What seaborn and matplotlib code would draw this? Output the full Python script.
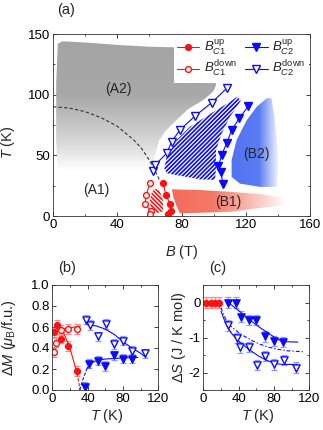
import numpy as np
import matplotlib
matplotlib.use("Agg")
import matplotlib.pyplot as plt
import seaborn as sns
from matplotlib.patches import Polygon
from matplotlib.lines import Line2D
from matplotlib.ticker import MultipleLocator

# ---------------- data: panel (a) phase diagram ----------------
bc1_up_B = [68.5, 70.4, 72.9, 73.5, 71.6]
bc1_up_T = [27, 17, 10, 4, 2]
bc1_dn_B = [60.4, 57.9, 57.3, 61.0, 60.6]
bc1_dn_T = [27, 17, 10, 4, 2]
bc2_up_B = [121.6, 116, 111.3, 108.2, 105, 103, 104.6, 105.7]
bc2_up_T = [90.7, 80.5, 70.9, 60.4, 50.3, 41.2, 36.5, 26.4]
bc2_dn_B = [62.5, 63.5, 70.8, 73.9, 79, 88.4, 98.8, 108.2]
bc2_dn_T = [37.4, 42, 51.7, 61.3, 70.9, 82.4, 93.4, 105.3]

guide_B = [0, 10, 20, 30, 40, 50, 55, 60, 64, 66.5]
guide_T = [90, 89, 86, 81, 74, 63, 56, 46, 36, 29]

regionA2_B = [3, 6, 20, 40, 60, 76, 76, 100, 101.5, 100, 94, 84, 76, 70, 66, 63.5, 61, 30, 3, 2, 2]
regionA2_T = [142, 144, 143, 141, 139.5, 139, 116, 115.5, 108, 103, 96, 88, 78, 70, 62, 50, 38, 36, 38, 60, 110]
regionB1_B = [74, 90, 110, 130, 143, 145, 143, 125, 112, 95, 79, 77, 75]
regionB1_T = [22, 21.5, 20, 18, 15, 12, 9, 6, 3.6, 2.8, 2.2, 8, 15]
regionB2_B = [111.2, 114.3, 120.6, 126.8, 133, 136, 137.5, 139, 140.3, 139.3, 128.9, 116.4, 111.2]
regionB2_T = [46, 62.6, 79, 90, 97, 97, 85, 68, 46, 24, 24, 26.7, 32.2]
hatchB_B = [114.8, 116.9, 110.2, 105, 101.5, 101.5, 100.9, 91.5, 70.8, 69.3, 70.8, 77, 85.3, 93.6, 101.9, 110.2]
hatchB_T = [98.4, 95, 81.9, 68.2, 54.4, 40.7, 29.7, 30.2, 35.2, 39.3, 48.9, 62.6, 73.6, 80.5, 87.4, 94.2]
hatchR_B = [62.9, 66.2, 68.3, 68.7, 64.6, 60.8, 60.4, 61.4]
hatchR_T = [22.4, 21.6, 13.4, 3.8, 2.4, 5.1, 13.4, 18.9]

region_labels = ["(A2)", "(A1)", "(B2)", "(B1)"]
region_label_B = [40.7, 27.2, 126.8, 109]
region_label_T = [104.6, 21.4, 51, 11.8]

# ---------------- data: panel (b) dM ----------------
mb_rup_T = [2.3, 5, 10.3, 17.5, 27.7]
mb_rup_M = [0.55, 0.62, 0.49, 0.42, 0.18]
mb_rdn_T = [2.3, 4.2, 10.2, 17.4, 27.6]
mb_rdn_M = [0.36, 0.45, 0.57, 0.58, 0.58]
mb_bdn_T = [38, 43, 52, 61, 70, 80, 90, 105]
mb_bdn_M = [0.67, 0.62, 0.51, 0.63, 0.44, 0.47, 0.37, 0.35]
mb_bup_T = [37, 42, 52, 60, 70, 80, 90]
mb_bup_M = [0.03, 0.25, 0.28, 0.23, 0.33, 0.30, 0.30]
mb_err = 0.045

fb_rup_T = [3, 8, 13, 18, 22, 26, 28]
fb_rup_M = [0.61, 0.59, 0.54, 0.44, 0.34, 0.22, 0.16]
fb_rup_dT = [28, 30, 31.5]
fb_rup_dM = [0.16, 0.07, 0.0]
fb_rdn_T = [5, 32]
fb_rdn_M = [0.57, 0.61]
fb_bdn_T = [40, 50, 60, 70, 80, 90, 100, 106]
fb_bdn_M = [0.62, 0.61, 0.58, 0.53, 0.46, 0.40, 0.35, 0.31]
fb_bup_dT = [31, 35, 39.5]
fb_bup_dM = [0.0, 0.11, 0.21]
fb_bup_T = [39.5, 45, 50, 60, 70, 80, 97]
fb_bup_M = [0.21, 0.26, 0.28, 0.295, 0.30, 0.305, 0.31]

# ---------------- data: panel (c) dS ----------------
sc_r_T = [3, 8.5, 13, 18]
sc_r_S = [0, 0, 0, 0]
sc_bup_T = [28, 37, 43, 52, 60, 70, 80, 90]
sc_bup_S = [0, 0, -0.4, -0.5, -0.5, -0.97, -1.1, -1.13]
sc_bdn_T = [28, 38, 42, 52, 61, 70, 80, 91, 105]
sc_bdn_S = [-0.65, -1.02, -1.28, -1.27, -1.78, -1.53, -1.77, -1.64, -1.86]
sc_err = 0.15

fc_bup_T = [28, 35, 42, 50, 58, 66, 74, 82, 90, 107]
fc_bup_S = [0, -0.13, -0.27, -0.45, -0.6, -0.75, -0.88, -1.02, -1.12, -1.13]
fc_bdn_T = [20, 23, 27, 31, 36, 42, 48, 55, 62, 70, 80, 90, 106]
fc_bdn_S = [-0.25, -0.45, -0.67, -0.85, -1.0, -1.15, -1.27, -1.4, -1.52, -1.63, -1.74, -1.77, -1.77]
fc_mid_T = [20, 23, 27, 31, 36, 42, 49, 56, 64, 73, 83, 95, 115]
fc_mid_S = [-0.15, -0.35, -0.55, -0.67, -0.78, -0.9, -1.0, -1.1, -1.19, -1.27, -1.33, -1.38, -1.41]

# ---------------- style ----------------
sns.set_theme(style="ticks")
FS = 9.5
LFS = 10.5
plt.rcParams.update({
    "font.family": ["Liberation Sans", "DejaVu Sans"],
    "mathtext.fontset": "custom",
    "mathtext.rm": "Liberation Sans",
    "mathtext.it": "Liberation Sans:italic",
    "mathtext.bf": "Liberation Sans:bold",
    "axes.unicode_minus": False,
    "hatch.linewidth": 1.2,
    "xtick.direction": "in", "ytick.direction": "in",
    "xtick.top": True, "ytick.right": True,
    "xtick.major.size": 3, "ytick.major.size": 3,
    "xtick.minor.size": 1.6, "ytick.minor.size": 1.6,
    "xtick.major.width": 0.6, "ytick.major.width": 0.6,
    "xtick.minor.width": 0.6, "ytick.minor.width": 0.6,
    "xtick.color": "#222222", "ytick.color": "#222222",
    "xtick.labelcolor": "black", "ytick.labelcolor": "black",
    "axes.edgecolor": "#333333", "axes.linewidth": 0.6,
    "xtick.labelsize": FS, "ytick.labelsize": FS,
    "axes.labelsize": LFS,
    "xtick.major.pad": 2.5, "ytick.major.pad": 2,
})

RED = "#ff1010"
BLUE = "#0a0aff"
LRED = "#ff8c8c"
LBLUE = "#8a9cff"

W, H = 323, 430
fig = plt.figure(figsize=(W / 100, H / 100), dpi=100)


def axes_px(x0, y0, x1, y1):
    return fig.add_axes([x0 / W, 1 - y1 / H, (x1 - x0) / W, (y1 - y0) / H])


axA = axes_px(53, 34, 310, 216)
axB = axes_px(52.3, 285, 158.3, 390)
axC = axes_px(203.3, 285, 309.3, 390)


def grad_fill(ax, xs, ys, direction, stops, colors, extent):
    poly = Polygon(np.column_stack([xs, ys]), closed=True, facecolor="none",
                   edgecolor="none", transform=ax.transData)
    ax.add_patch(poly)
    n = 300
    cols = np.array([matplotlib.colors.to_rgb(c) for c in colors])
    if direction == "x":
        grid = np.linspace(extent[0], extent[1], n)
        rgb = np.stack([np.interp(grid, stops, cols[:, k]) for k in range(3)], -1)
        img = rgb[None, :, :]
    else:
        grid = np.linspace(extent[2], extent[3], n)
        rgb = np.stack([np.interp(grid, stops, cols[:, k]) for k in range(3)], -1)
        img = rgb[:, None, :]
    im = ax.imshow(img, extent=extent, origin="lower", aspect="auto",
                   interpolation="bilinear", zorder=1)
    im.set_clip_path(poly)


# ---------------- panel (a) ----------------
grad_fill(axA, regionA2_B, regionA2_T, "y", [38, 60, 100, 150],
          ["#ffffff", "#d9d9d9", "#a8a8a8", "#a4a4a4"], [0, 110, 30, 150])
grad_fill(axA, regionB1_B, regionB1_T, "x", [70, 100, 146],
          ["#f36a58", "#f47a68", "#ffffff"], [70, 146, 0, 25])
grad_fill(axA, regionB2_B, regionB2_T, "x", [110, 128, 141],
          ["#5272f2", "#5a7cf2", "#ffffff"], [110, 141, 20, 100])

axA.add_patch(Polygon(np.column_stack([hatchB_B, hatchB_T]), closed=True,
                      facecolor="white", edgecolor=BLUE, hatch="////////", lw=0, zorder=2))
axA.add_patch(Polygon(np.column_stack([hatchR_B, hatchR_T]), closed=True,
                      facecolor="white", edgecolor=RED, hatch="\\\\\\\\\\\\\\\\", lw=0, zorder=2))

sns.lineplot(x=guide_B, y=guide_T, ax=axA, sort=False, estimator=None,
             color="#333333", lw=0.8, dashes=False, zorder=3)
axA.lines[-1].set_dashes((3, 2))


def series_line(ax, x, y, color, marker, filled, ms):
    sns.lineplot(x=x, y=y, ax=ax, sort=False, estimator=None, color=color, lw=0.8,
                 marker=marker, markersize=ms, markeredgecolor=color,
                 markerfacecolor=color if filled else "white",
                 markeredgewidth=1.0, zorder=5)


series_line(axA, bc1_up_B, bc1_up_T, RED, "o", True, 4.2)
series_line(axA, bc1_dn_B, bc1_dn_T, RED, "o", False, 4.2)
series_line(axA, bc2_up_B, bc2_up_T, BLUE, "v", True, 5.2)
series_line(axA, bc2_dn_B, bc2_dn_T, BLUE, "v", False, 5.2)

for lab, bx, ty in zip(region_labels, region_label_B, region_label_T):
    axA.text(bx, ty, lab, ha="center", va="center", fontsize=FS + 0.5, zorder=6)

axA.set_xlim(0, 160)
axA.set_ylim(0, 150)
axA.xaxis.set_major_locator(MultipleLocator(40))
axA.xaxis.set_minor_locator(MultipleLocator(20))
axA.yaxis.set_major_locator(MultipleLocator(50))
axA.yaxis.set_minor_locator(MultipleLocator(25))
axA.set_xlabel(r"$B$ (T)")
axA.set_ylabel(r"$T$ (K)")
axA.xaxis.set_label_coords(0.5, -0.15)
axA.yaxis.set_label_coords(-0.14, 0.405)

handles = [
    Line2D([], [], color=RED, lw=0.8, marker="o", ms=4.2, mfc=RED, mec=RED),
    Line2D([], [], color=RED, lw=0.8, marker="o", ms=4.2, mfc="white", mec=RED),
    Line2D([], [], color=BLUE, lw=0.8, marker="v", ms=5.2, mfc=BLUE, mec=BLUE),
    Line2D([], [], color=BLUE, lw=0.8, marker="v", ms=5.2, mfc="white", mec=BLUE),
]
labels = [r"$B_{C1}^{\rm up}$", r"$B_{C1}^{\rm down}$",
          r"$B_{C2}^{\rm up}$", r"$B_{C2}^{\rm down}$"]
leg = axA.legend(handles, labels, ncol=2, loc="upper right", bbox_to_anchor=(0.995, 0.995),
                 fontsize=FS, frameon=True, fancybox=False, framealpha=1,
                 handlelength=1.7, handletextpad=0.35, columnspacing=0.6,
                 labelspacing=0.15, borderpad=0.25, borderaxespad=0.0)
leg.get_frame().set_edgecolor("white")
leg.get_frame().set_linewidth(0)
leg.set_zorder(10)

fig.text(66 / W, 1 - 10 / H, "(a)", ha="center", va="center", fontsize=LFS)

# ---------------- panel (b) ----------------


def err_points(ax, x, y, err, color, ecolor, marker, filled, ms):
    ax.errorbar(x, y, yerr=err, fmt="none", ecolor=ecolor, elinewidth=0.9,
                capsize=2, capthick=0.9, zorder=3)
    sns.scatterplot(x=x, y=y, ax=ax, marker=marker, s=ms ** 2,
                    color=color if filled else "white", edgecolor=color,
                    linewidth=1.0, zorder=5, legend=False)


def fit_line(ax, x, y, color, dashes=None):
    sns.lineplot(x=x, y=y, ax=ax, sort=False, estimator=None, color=color,
                 lw=0.8, zorder=4)
    if dashes is not None:
        ax.lines[-1].set_dashes(dashes)


fit_line(axB, fb_rup_T, fb_rup_M, RED)
fit_line(axB, fb_rup_dT, fb_rup_dM, RED, (3, 1.5))
fit_line(axB, fb_rdn_T, fb_rdn_M, RED)
fit_line(axB, fb_bdn_T, fb_bdn_M, BLUE)
fit_line(axB, fb_bup_dT, fb_bup_dM, BLUE, (3, 1.5))
fit_line(axB, fb_bup_T, fb_bup_M, BLUE)

err_points(axB, mb_rdn_T, mb_rdn_M, mb_err, RED, LRED, "o", False, 4.2)
err_points(axB, mb_rup_T, mb_rup_M, mb_err, RED, LRED, "o", True, 4.2)
err_points(axB, mb_bdn_T, mb_bdn_M, mb_err, BLUE, LBLUE, "v", False, 5.2)
err_points(axB, mb_bup_T, mb_bup_M, mb_err, BLUE, LBLUE, "v", True, 5.2)

axB.set_xlim(0, 120)
axB.set_ylim(0, 1.0)
axB.xaxis.set_major_locator(MultipleLocator(40))
axB.xaxis.set_minor_locator(MultipleLocator(20))
axB.yaxis.set_major_locator(MultipleLocator(0.2))
axB.yaxis.set_major_formatter(matplotlib.ticker.FormatStrFormatter("%.1f"))
axB.set_xlabel(r"$T$ (K)")
axB.set_ylabel(r"$\mathit{\Delta M}$ ($\mu_{\rm B}$/f.u.)")
axB.xaxis.set_label_coords(0.516, -0.16)
axB.yaxis.set_label_coords(-0.32, 0.5)
fig.text(67 / W, 1 - 268 / H, "(b)", ha="center", va="center", fontsize=LFS)

# ---------------- panel (c) ----------------
fit_line(axC, fc_bup_T, fc_bup_S, BLUE)
fit_line(axC, fc_bdn_T, fc_bdn_S, BLUE)
fit_line(axC, fc_mid_T, fc_mid_S, BLUE, (3.5, 1.8, 1.2, 1.8))

err_points(axC, sc_r_T, sc_r_S, sc_err, RED, LRED, "o", True, 4.2)
err_points(axC, sc_bup_T, sc_bup_S, sc_err, BLUE, LBLUE, "v", True, 5.2)
err_points(axC, sc_bdn_T, sc_bdn_S, sc_err, BLUE, LBLUE, "v", False, 5.2)

axC.set_xlim(0, 120)
axC.set_ylim(-2.5, 0.5)
axC.xaxis.set_major_locator(MultipleLocator(40))
axC.xaxis.set_minor_locator(MultipleLocator(20))
axC.yaxis.set_major_locator(MultipleLocator(1))
axC.yaxis.set_minor_locator(MultipleLocator(0.5))
axC.set_xlabel(r"$T$ (K)")
axC.set_ylabel(r"$\mathit{\Delta S}$ (J / K mol)")
axC.xaxis.set_label_coords(0.516, -0.16)
axC.yaxis.set_label_coords(-0.14, 0.5)
fig.text(218 / W, 1 - 268 / H, "(c)", ha="center", va="center", fontsize=LFS)

for ax in (axA, axB, axC):
    ax.tick_params(which="both", top=True, right=True)
    for sp in ax.spines.values():
        sp.set_zorder(20)

fig.savefig("out.png", dpi=100)
